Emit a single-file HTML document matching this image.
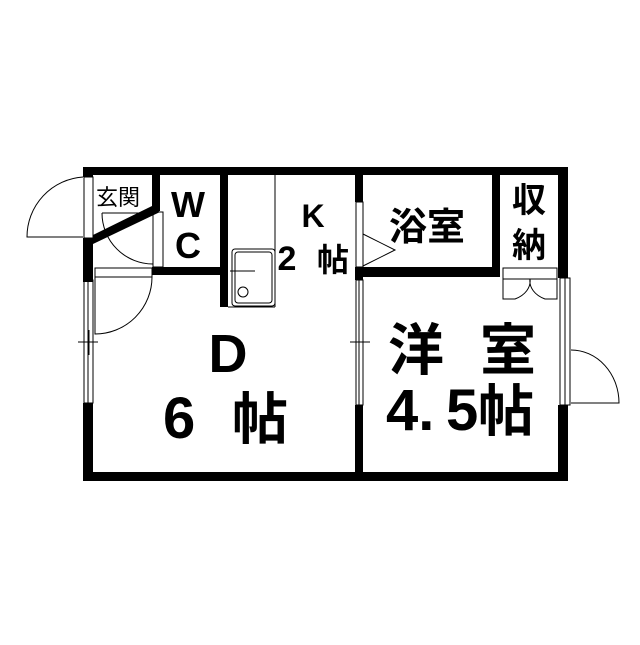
<!DOCTYPE html>
<html><head><meta charset="utf-8"><style>
html,body{margin:0;padding:0;background:#fff}
svg text{font-family:"Liberation Sans","Noto Sans CJK JP",sans-serif;fill:#000;font-weight:bold}
</style></head><body>
<svg width="640" height="640" viewBox="0 0 640 640" xmlns="http://www.w3.org/2000/svg">
<rect width="640" height="640" fill="#fff"/>
<g fill="#000">
<rect x="83" y="167" width="485" height="8"/>
<rect x="83" y="472" width="485" height="9"/>
<rect x="83" y="238" width="10" height="44"/>
<rect x="83" y="403" width="10" height="78"/>
<rect x="83" y="167" width="10" height="10"/>
<rect x="558" y="167" width="10" height="111"/>
<rect x="558" y="405" width="10" height="76"/>
<rect x="152" y="175" width="8" height="36"/>
<rect x="152" y="267" width="76" height="8"/>
<rect x="220" y="175" width="8" height="132"/>
<rect x="355" y="175" width="8" height="27"/>
<rect x="355" y="267" width="8" height="13"/>
<rect x="355" y="405" width="8" height="70"/>
<rect x="355" y="267" width="145" height="10"/>
<rect x="492" y="175" width="8" height="100"/>
</g>
<polygon points="152,206 160,212 93,244 93,235" fill="#000"/>
<g fill="none" stroke="#000" stroke-width="1">
<rect x="84" y="177" width="9" height="61" fill="#fff"/>
<path d="M83,177 A60,60 0 0 0 27,237 L83,237"/>
<rect x="153" y="212" width="10" height="55"/>
<path d="M102,213 L153,213 M102,213 A51,51 0 0 0 153,264"/>
<rect x="95" y="268" width="57" height="9"/>
<path d="M152,277 A57,57 0 0 1 95,334 L95,277"/>
<rect x="84" y="280" width="9" height="123"/>
<line x1="88" y1="280" x2="88" y2="403"/>
<line x1="78" y1="342" x2="98" y2="342"/>
<line x1="89" y1="330" x2="89" y2="355"/>
<line x1="275" y1="175" x2="275" y2="307"/>
<line x1="228" y1="307" x2="275" y2="307"/>
<rect x="232" y="249" width="43" height="57" rx="3"/>
<rect x="235" y="252" width="37" height="51" rx="3"/>
<circle cx="243" cy="292" r="5"/>
<line x1="230" y1="271" x2="255" y2="271"/>
<rect x="356" y="202" width="7" height="65" fill="#fff"/>
<path d="M363,234 L395,250 L363,266"/>
<rect x="356" y="280" width="7" height="125"/>
<line x1="359" y1="280" x2="359" y2="405"/>
<line x1="350" y1="342" x2="370" y2="342"/>
<rect x="503" y="268" width="54" height="11"/>
<path d="M503,279 L503,299 L515,299 A27,20 0 0 0 530,279 A27,20 0 0 0 545,299 L557,299 L557,279"/>
<rect x="560" y="278" width="10" height="127" fill="#fff"/>
<line x1="565" y1="278" x2="565" y2="405"/>
<path d="M571,350 A48,53 0 0 1 619,403 L571,403"/>
</g>
<text x="96" y="205" font-size="22" font-weight="normal" style="font-weight:normal">玄関</text>
<text x="188" y="217" font-size="36" text-anchor="middle">W</text>
<text x="188" y="258" font-size="36" text-anchor="middle">C</text>
<text x="313" y="227" font-size="32" text-anchor="middle">K</text>
<text x="287" y="270" font-size="34" text-anchor="middle">2</text>
<text x="333" y="271" font-size="32" text-anchor="middle">帖</text>
<text x="427" y="240" font-size="38" text-anchor="middle">浴室</text>
<text x="529" y="212" font-size="34" text-anchor="middle">収</text>
<text x="529" y="257" font-size="34" text-anchor="middle">納</text>
<text x="228" y="372" font-size="54" text-anchor="middle">D</text>
<text x="163" y="438" font-size="58">6</text>
<text x="232" y="439" font-size="56">帖</text>
<text x="388" y="370" font-size="56">洋</text>
<text x="480" y="370" font-size="56">室</text>
<text x="386" y="430" font-size="58">4.</text>
<text x="446" y="430" font-size="58">5</text>
<text x="478" y="431" font-size="56">帖</text>
</svg>
</body></html>
